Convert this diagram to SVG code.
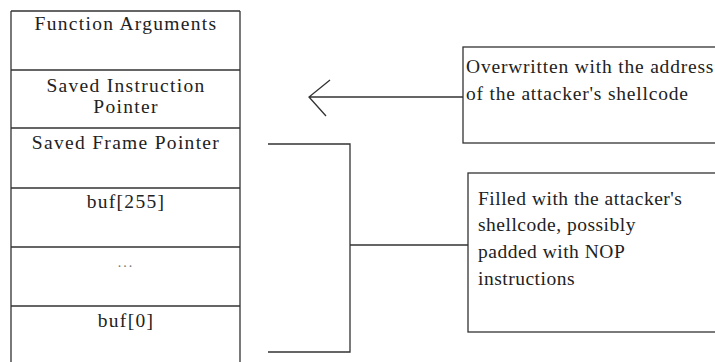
<svg xmlns="http://www.w3.org/2000/svg" width="715" height="362" viewBox="0 0 715 362">
<style>
.ln{stroke:#333;stroke-width:1.3;fill:none}
.bx{stroke:#333;stroke-width:1.3;fill:#fff}
.t{font-family:'Liberation Serif','Times New Roman',Times,serif;font-size:19.5px;fill:#222;letter-spacing:0.8px}
#stack{letter-spacing:1.3px}
#note2{letter-spacing:0.5px}
.c{text-anchor:middle}
</style>
<rect width="715" height="362" fill="#fff"/>
<g id="stack" class="t">
<path class="ln" d="M11,11 H240 M11,11 V370 M240,11 V370 M11,70 H240 M11,128 H240 M11,188 H240 M11,247 H240 M11,306 H240"/>
<text class="c" x="126" y="30">Function Arguments</text>
<text class="c" x="126" y="92">Saved Instruction</text>
<text class="c" x="126" y="113">Pointer</text>
<text class="c" x="126" y="149">Saved Frame Pointer</text>
<text class="c" x="126" y="208">buf[255]</text>
<text class="c" x="126" y="267" style="font-size:14px;fill:#777;letter-spacing:2px">...</text>
<text class="c" x="126" y="327">buf[0]</text>
</g>
<g id="note1" class="t">
<rect class="bx" x="463" y="47" width="270" height="96"/>
<text x="466" y="73">Overwritten with the address</text>
<text x="466" y="100">of the attacker's shellcode</text>
</g>
<g id="note2" class="t">
<rect class="bx" x="468" y="173" width="270" height="159"/>
<text x="478" y="205">Filled with the attacker's</text>
<text x="478" y="231">shellcode, possibly</text>
<text x="478" y="258">padded with NOP</text>
<text x="478" y="285">instructions</text>
</g>
<g id="connectors">
<path class="ln" d="M463,97 H309 M330,80 L309,97 L326,116"/>
<path class="ln" d="M268,144 H350 V352 H268 M350,245 H468"/>
</g>
</svg>
